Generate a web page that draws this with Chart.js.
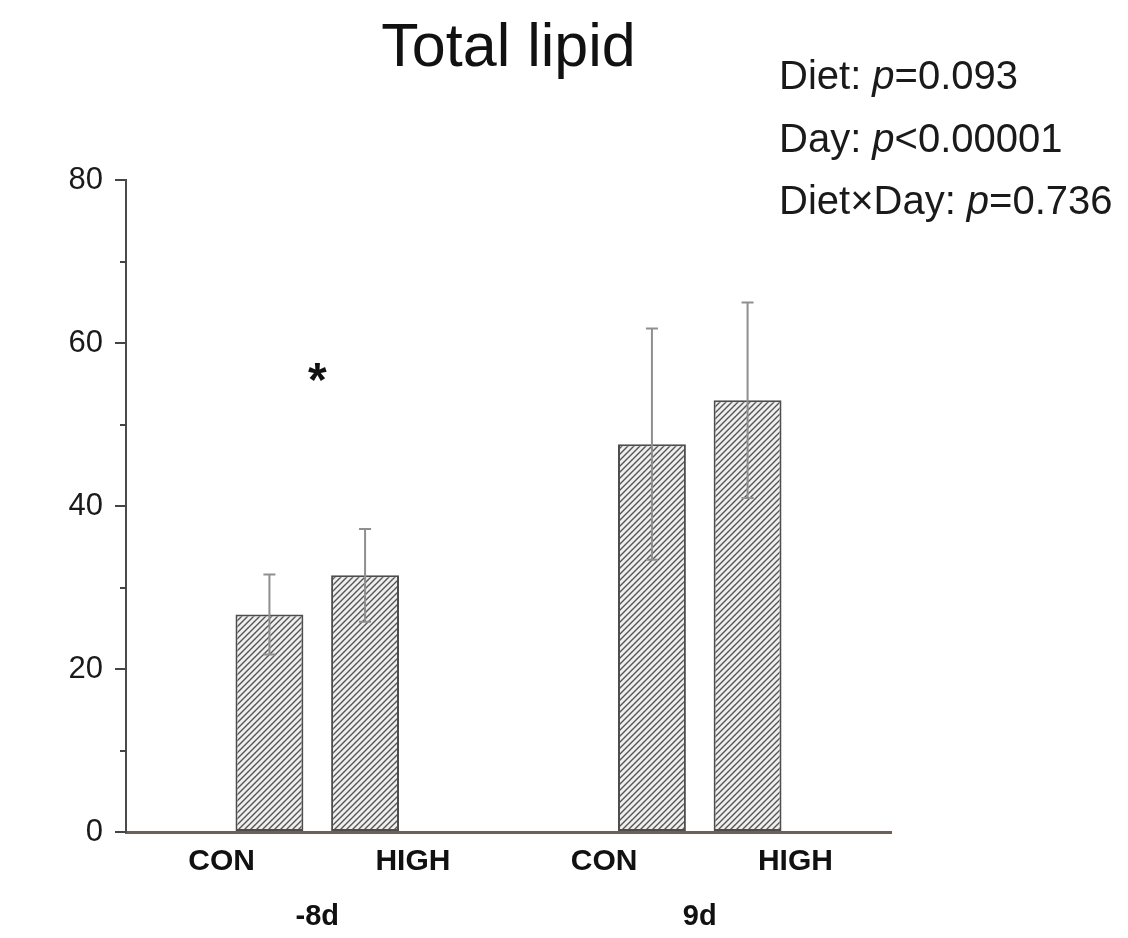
<!DOCTYPE html>
<html>
<head>
<meta charset="utf-8">
<title>Total lipid</title>
<script src="https://cdn.jsdelivr.net/npm/chart.js@4/dist/chart.umd.min.js"></script>
<style>
  html, body { margin: 0; padding: 0; background: #ffffff; }
  #wrap { width: 1128px; height: 938px; }
</style>
</head>
<body>
<div id="wrap"><canvas id="chart" width="1128" height="938"></canvas></div>
<script>
// Sampling days (groups) and diets (bars within each group)
const groupLabels = ['-8d', '9d'];
const dietLabels = ['CON', 'HIGH'];

// Total lipid, mean and SD, ordered -8d CON, -8d HIGH, 9d CON, 9d HIGH
const lipidMean = [26.7, 31.5, 47.6, 53.0];
const lipidSD = [4.9, 5.7, 14.2, 12.0];

// Y axis range and ticks
const yMin = 0;
const yMax = 80;
const yStep = 10;
const yLabelStep = 20;

// Statistics annotation
const statLines = [
  ['Diet: ', 'p', '=0.093'],
  ['Day: ', 'p', '<0.00001'],
  ['Diet\u00d7Day: ', 'p', '=0.736']
];
// Significance marker over the -8d group
const starGroup = 0;
const starValue = 56.5;

const FONT = '"Liberation Sans", Arial, Helvetica, sans-serif';

// Each group spans 2 units on the x scale; bars sit at centre +/- 0.25,
// diet labels at centre +/- 0.5
const groupCenter = g => 1 + 2 * g;
const barPositions = lipidMean.map((_, i) => groupCenter(Math.floor(i / 2)) + (i % 2 === 0 ? -0.25 : 0.25));
const dietTickPositions = [];
groupLabels.forEach((_, g) => dietLabels.forEach((_, d) => dietTickPositions.push(groupCenter(g) + (d === 0 ? -0.5 : 0.5))));
const groupTickPositions = groupLabels.map((_, g) => groupCenter(g));

// Diagonal hatch fill for the bars
function makeHatch() {
  const s = 6;
  const c = document.createElement('canvas');
  c.width = s; c.height = s;
  const g = c.getContext('2d');
  g.fillStyle = '#efefef';
  g.fillRect(0, 0, s, s);
  g.strokeStyle = '#555555';
  g.lineWidth = 1.4;
  g.beginPath();
  g.moveTo(-1, s + 1); g.lineTo(s + 1, -1);
  g.moveTo(-1, 1); g.lineTo(1, -1);
  g.moveTo(s - 1, s + 1); g.lineTo(s + 1, s - 1);
  g.stroke();
  return document.getElementById('chart').getContext('2d').createPattern(c, 'repeat');
}

// SD whiskers drawn over the bars
const errorBars = {
  id: 'errorBars',
  afterDatasetsDraw(chart) {
    const ctx = chart.ctx;
    const y = chart.scales.y;
    const meta = chart.getDatasetMeta(0);
    ctx.save();
    ctx.strokeStyle = '#8f8f8f';
    ctx.lineWidth = 2;
    meta.data.forEach((bar, i) => {
      const top = y.getPixelForValue(lipidMean[i] + lipidSD[i]);
      const bot = y.getPixelForValue(lipidMean[i] - lipidSD[i]);
      const cap = 6;
      ctx.beginPath();
      ctx.moveTo(bar.x, top); ctx.lineTo(bar.x, bot);
      ctx.moveTo(bar.x - cap, top); ctx.lineTo(bar.x + cap, top);
      ctx.moveTo(bar.x - cap, bot); ctx.lineTo(bar.x + cap, bot);
      ctx.stroke();
    });
    ctx.restore();
  }
};

// Short minor ticks on the y axis, star marker and statistics text
const extras = {
  id: 'extras',
  afterDraw(chart) {
    const ctx = chart.ctx;
    const y = chart.scales.y;
    const x = chart.scales.x;
    ctx.save();
    ctx.strokeStyle = '#444444';
    ctx.lineWidth = 2;
    for (let v = yMin; v <= yMax; v += yStep) {
      if (v % yLabelStep === 0) continue;
      const py = Math.round(y.getPixelForValue(v));
      ctx.beginPath();
      ctx.moveTo(chart.chartArea.left - 6, py);
      ctx.lineTo(chart.chartArea.left, py);
      ctx.stroke();
    }

    // significance star
    ctx.fillStyle = '#111111';
    ctx.font = 'bold 48px ' + FONT;
    const m = ctx.measureText('*');
    const sx = x.getPixelForValue(groupCenter(starGroup));
    const sy = y.getPixelForValue(starValue);
    ctx.textAlign = 'center';
    ctx.textBaseline = 'alphabetic';
    ctx.fillText('*', sx, sy + (m.actualBoundingBoxAscent - m.actualBoundingBoxDescent) / 2);

    // statistics block
    ctx.textAlign = 'left';
    ctx.textBaseline = 'middle';
    const left = 779;
    const firstLine = 78;
    const lineGap = 62.5;
    statLines.forEach((parts, i) => {
      let px = left;
      const py = firstLine + i * lineGap;
      parts.forEach((t, k) => {
        ctx.font = (k === 1 ? 'italic ' : '') + '40px ' + FONT;
        ctx.fillStyle = '#1a1a1a';
        ctx.fillText(t, px, py);
        px += ctx.measureText(t).width;
      });
    });
    ctx.restore();
  }
};

const chart = new Chart(document.getElementById('chart'), {
  type: 'bar',
  data: {
    datasets: [{
      data: lipidMean.map((v, i) => ({ x: barPositions[i], y: v })),
      backgroundColor: makeHatch(),
      borderColor: '#4d4d4d',
      borderWidth: 2,
      borderSkipped: false,
      categoryPercentage: 1,
      barPercentage: 0.71
    }]
  },
  options: {
    responsive: false,
    animation: false,
    events: [],
    layout: { padding: { left: 10, right: 237, top: 0, bottom: 4 } },
    plugins: {
      legend: { display: false },
      tooltip: { enabled: false },
      title: {
        display: true,
        text: 'Total lipid',
        fullSize: false,
        color: '#111111',
        font: { family: FONT, size: 61, weight: 'normal', lineHeight: 1.2 },
        padding: { top: 13, bottom: 94 }
      }
    },
    scales: {
      x: {
        type: 'linear',
        min: 0,
        max: 4,
        offset: false,
        weight: 0,
        grid: { display: true, drawOnChartArea: false, drawTicks: false, offset: false },
        border: { display: true, color: '#6b605a', width: 3 },
        afterBuildTicks: s => { s.ticks = dietTickPositions.map(v => ({ value: v })); },
        afterFit: s => { s.height = 56; },
        ticks: {
          autoSkip: false,
          maxRotation: 0,
          padding: 12,
          color: '#111111',
          font: { family: FONT, size: 30, weight: 'bold' },
          callback: (v, i) => dietLabels[i % dietLabels.length]
        }
      },
      x2: {
        type: 'linear',
        position: 'bottom',
        min: 0,
        max: 4,
        offset: false,
        weight: 1,
        grid: { display: false, drawTicks: false, offset: false },
        border: { display: false },
        afterBuildTicks: s => { s.ticks = groupTickPositions.map(v => ({ value: v })); },
        afterFit: s => { s.height = 46; },
        ticks: {
          autoSkip: false,
          maxRotation: 0,
          padding: 12,
          color: '#111111',
          font: { family: FONT, size: 29, weight: 'bold' },
          callback: (v, i) => groupLabels[i]
        }
      },
      y: {
        min: yMin,
        max: yMax,
        afterFit: s => { s.width = 116; },
        grid: {
          drawOnChartArea: false,
          drawTicks: true,
          tickLength: 11,
          lineWidth: 2,
          tickColor: c => (c.tick && c.tick.value % yLabelStep === 0) ? '#444444' : 'rgba(0,0,0,0)'
        },
        border: { display: true, color: '#4a4a4a', width: 2 },
        ticks: {
          stepSize: yStep,
          padding: 12,
          color: '#1a1a1a',
          font: { family: FONT, size: 31 },
          callback: v => (v % yLabelStep === 0 ? String(v) : '')
        }
      }
    }
  },
  plugins: [errorBars, extras]
});
</script>
</body>
</html>
